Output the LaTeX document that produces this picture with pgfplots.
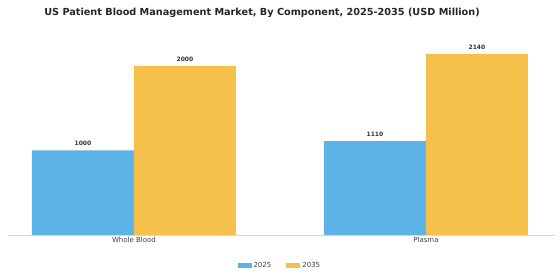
\documentclass[border=0pt]{standalone}
\usepackage{pgfplots}
\pgfplotsset{compat=1.18}
\usepackage{fontspec}
\setmainfont{DejaVu Sans}
\definecolor{c25}{RGB}{93,178,230}
\definecolor{c35}{RGB}{246,193,75}
\definecolor{axgray}{RGB}{215,215,215}
\begin{document}
\begin{tikzpicture}[x=1pt,y=1pt]
\useasboundingbox (0,0) rectangle (560,280);
\node[font=\fontsize{9.7}{11}\selectfont\bfseries, text=black!85] at (262,267.5) {US Patient Blood Management Market, By Component, 2025-2035 (USD Million)};
\begin{axis}[
  at={(8pt,45pt)}, anchor=south west,
  scale only axis, width=547pt, height=195pt,
  xmin=-0.4315, xmax=1.442, ymin=0, ymax=2305,
  ybar=0pt, bar width=102pt,
  axis y line=none,
  axis x line*=bottom,
  x axis line style={axgray, line width=0.8pt},
  xtick={0,1}, xticklabels={Whole Blood, Plasma},
  major tick length=0pt,
  xticklabel style={font=\fontsize{7}{8}\selectfont, text=black!75, yshift=1pt},
  nodes near coords,
  /pgf/number format/assume math mode=true,
  /pgf/number format/1000 sep={},
  every node near coord/.append style={font=\fontsize{6}{7}\selectfont\bfseries, text=black!80, yshift=1pt,
    /pgf/number format/assume math mode=true, /pgf/number format/1000 sep={}},
  legend style={at={(0.497,-0.157)}, anchor=center, draw=none, legend columns=2,
    font=\fontsize{7}{8}\selectfont, text=black!75,
    /tikz/every even column/.append style={column sep=13pt}},
  legend image code/.code={\fill[#1] (-1pt,-2.5pt) rectangle (13pt,2.5pt);},
]
\addplot[fill=c25, draw=none] coordinates {(0,1000) (1,1110)};
\addplot[fill=c35, draw=none] coordinates {(0,2000) (1,2140)};
\legend{2025,2035}
\end{axis}
\end{tikzpicture}
\end{document}
